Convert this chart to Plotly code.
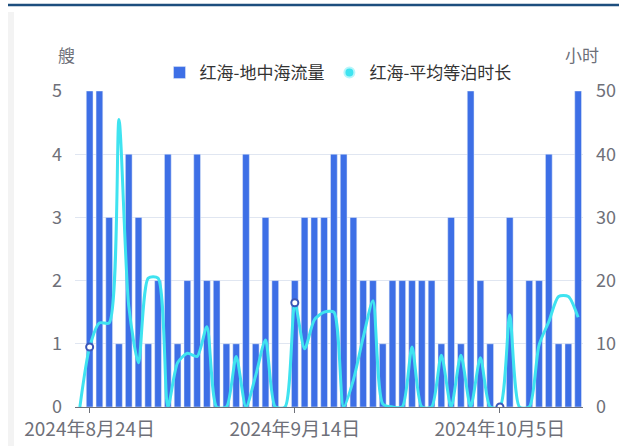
import plotly.graph_objects as go
import pandas as pd

dates = [d.strftime("%Y-%m-%d") for d in pd.date_range("2024-08-23", "2024-10-13", freq="D")]

flow = [0, 5, 5, 3, 1, 4, 3, 1, 2,
        4, 1, 2, 4, 2, 2, 1, 1, 4, 1, 3, 2, 0, 2, 3, 3, 3, 4, 4, 3, 2, 2, 1, 2, 2, 2, 2, 2, 1, 3,
        1, 5, 2, 1, 0, 3, 0, 2, 2, 4, 1, 1, 5]

wait_hours = [0, 9.5, 13.3, 13.3, 45.5, 16, 7, 20.4, 20.4,
              0, 7, 8.5, 8, 12.7, 0, 0, 8, 0, 5, 10.6, 0, 0, 16.5, 9.2, 13.8, 15, 15, 0, 4.3, 11, 16.8,
              0.5, 0, 0, 9.5, 0, 0, 8.2, 0, 8.2, 0, 7.8, 0, 0, 14.6, 0, 0, 9.8, 13.5, 17.5, 17.5, 14.2]

tick_dates = ["2024-08-24", "2024-09-14", "2024-10-05"]
tick_labels = ["2024年8月24日", "2024年9月14日", "2024年10月5日"]

bar_name = "红海-地中海流量"
line_name = "红海-平均等泊时长"

FONT = "Noto Sans CJK SC"
GREY = "#6E7079"
BAR_C = "#3d6fe6"
LINE_C = "#3fe3f0"

# plot area in pixels
L, R, T, B = 75, 583, 91, 407
W, H = 619, 446

def px(x):
    return (x - L) / (R - L)

def py(y):
    return (B - y) / (B - T)

fig = go.Figure()

fig.add_trace(go.Bar(x=dates, y=flow, name=bar_name, marker_color=BAR_C,
                     yaxis="y", hoverinfo="x+y"))

fig.add_trace(go.Scatter(x=dates, y=wait_hours, mode="lines", name=line_name,
                         line=dict(color=LINE_C, width=3, shape="spline", smoothing=0.7),
                         yaxis="y2", showlegend=False))

mk_idx = [dates.index(d) for d in tick_dates]
fig.add_trace(go.Scatter(x=[dates[i] for i in mk_idx], y=[wait_hours[i] for i in mk_idx],
                         mode="markers", yaxis="y2", showlegend=False,
                         marker=dict(size=7, color="white", line=dict(color="#3a56b8", width=2))))

# legend-only entry for the line series
fig.add_trace(go.Scatter(x=[None], y=[None], mode="markers", name=line_name, yaxis="y2",
                         marker=dict(size=10, color=LINE_C, line=dict(color="#b8f6fb", width=2))))

fig.update_layout(
    width=W, height=H,
    margin=dict(l=L, r=W - R, t=T, b=H - B, autoexpand=False),
    paper_bgcolor="white", plot_bgcolor="white",
    font=dict(family=FONT, color=GREY, size=18),
    bargap=0.31,
    showlegend=True,
    legend=dict(orientation="h", x=px(338), xanchor="center", y=py(73), yanchor="middle",
                font=dict(size=17, color="#333333"), itemwidth=30, tracegroupgap=0,
                bgcolor="rgba(0,0,0,0)"),
    xaxis=dict(type="category", categoryorder="array", categoryarray=dates,
               range=[-0.5, len(dates) - 0.5], autorange=False,
               tickmode="array", tickvals=tick_dates, ticktext=tick_labels,
               showline=True, linecolor=GREY, linewidth=1, automargin=False,
               ticks="outside", ticklen=5, tickcolor=GREY,
               showgrid=False, zeroline=False, tickfont=dict(size=19, color=GREY)),
    yaxis=dict(range=[0, 5], dtick=1, showgrid=True, gridcolor="#E0E6F1", zeroline=False,
               showline=False, ticks="", ticklabelstandoff=12, automargin=False,
               tickfont=dict(size=18, color=GREY)),
    yaxis2=dict(range=[0, 50], dtick=10, overlaying="y", side="right", showgrid=False,
                zeroline=False, showline=False, ticks="", ticklabelstandoff=12, automargin=False,
                tickfont=dict(size=18, color=GREY)),
    annotations=[
        dict(text="艘", x=px(66), y=py(54), xref="paper", yref="paper", showarrow=False,
             font=dict(size=17, color=GREY), xanchor="center", yanchor="middle"),
        dict(text="小时", x=px(582), y=py(54), xref="paper", yref="paper", showarrow=False,
             font=dict(size=17, color=GREY), xanchor="center", yanchor="middle"),
    ],
    shapes=[
        dict(type="line", xref="paper", yref="paper", x0=px(8), x1=px(W), y0=py(5), y1=py(5),
             line=dict(color="#1d4e7e", width=2.5), layer="above"),
        dict(type="rect", xref="paper", yref="paper", x0=px(8), x1=px(14), y0=py(12), y1=py(H),
             fillcolor="#f3f3f3", line=dict(width=0), layer="below"),
    ],
)

fig.write_html("out.html", config={"displayModeBar": False},
               post_script="document.body.style.margin='0';")
